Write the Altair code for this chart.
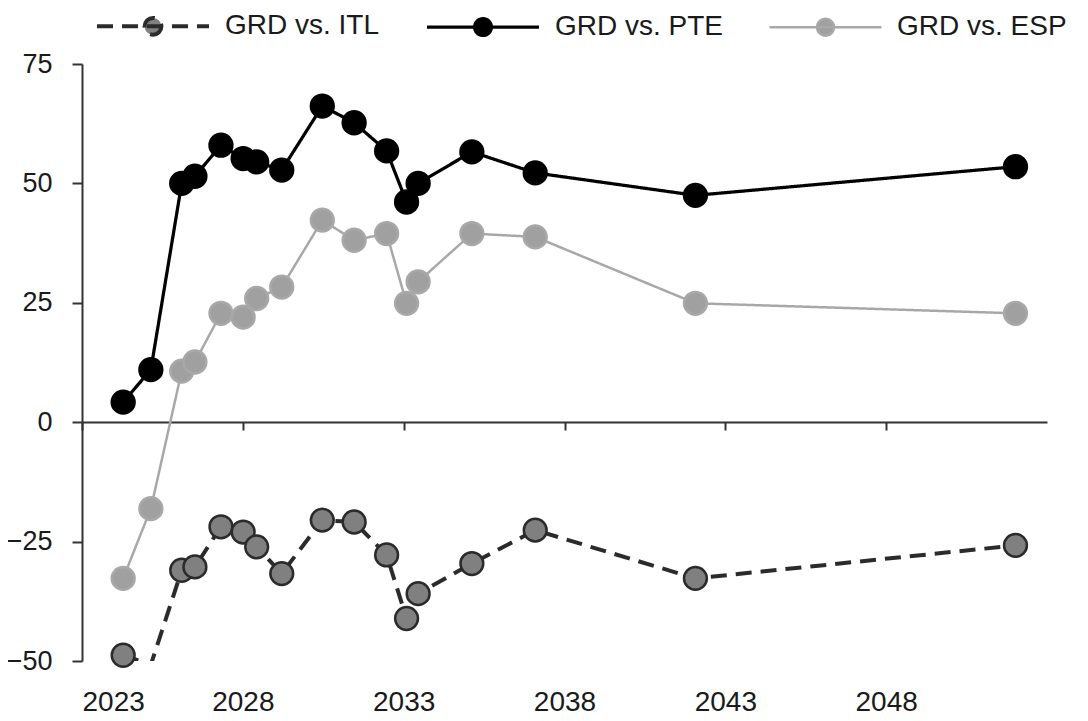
import altair as alt
import pandas as pd

# ---- data ----
years = [2024.28, 2025.14, 2026.10, 2026.51, 2027.32, 2028.01, 2028.43, 2029.21,
         2030.47, 2031.46, 2032.47, 2033.09, 2033.45, 2035.12, 2037.09, 2042.07, 2052.02]
itl = [-48.8, -50.8, -31.0, -30.3, -21.9, -23.0, -26.1, -31.7,
       -20.5, -20.9, -27.8, -41.1, -35.9, -29.6, -22.6, -32.7, -25.8]
pte = [4.2, 11.0, 50.0, 51.5, 58.0, 55.2, 54.5, 52.8,
       66.2, 62.7, 56.8, 46.1, 50.0, 56.6, 52.2, 47.5, 53.5]
esp = [-32.7, -18.1, 10.7, 12.6, 22.8, 22.0, 25.9, 28.3,
       42.3, 38.1, 39.5, 24.9, 29.4, 39.5, 38.8, 24.9, 22.8]
series = ["GRD vs. ITL", "GRD vs. PTE", "GRD vs. ESP"]
x_ticks = [2023, 2028, 2033, 2038, 2043, 2048]
y_ticks = [-50, -25, 0, 25, 50, 75]

rows = []
for name, vals in zip(series, [itl, pte, esp]):
    for yr, v in zip(years, vals):
        rows.append({"series": name, "year": yr, "value": v})
df = pd.DataFrame(rows)

FONT = "Liberation Sans, Arial, sans-serif"

x_enc = alt.X("year:Q",
              scale=alt.Scale(domain=[2023, 2053], nice=False, zero=False),
              axis=alt.Axis(values=x_ticks, format="d", title=None, offset=-239,
                            tickSize=8, labelPadding=258, grid=False))
y_enc = alt.Y("value:Q",
              scale=alt.Scale(domain=[-50, 75], nice=False, zero=False),
              axis=alt.Axis(values=y_ticks, title=None, tickSize=10,
                            labelPadding=20, labelFontSize=27, grid=False))

color = alt.Color("series:N", title=None,
                  scale=alt.Scale(domain=series, range=["#2b2b2b", "#000000", "#a8a8a8"]))
fill = alt.Fill("series:N", title=None,
                scale=alt.Scale(domain=series, range=["#808080", "#000000", "#a0a0a0"]))
dash = alt.StrokeDash("series:N", title=None,
                      scale=alt.Scale(domain=series, range=[[16, 9], [1, 0], [1, 0]]))
width = alt.StrokeWidth("series:N", title=None,
                        scale=alt.Scale(domain=series, range=[4, 2.5, 2.5]))

base = alt.Chart(df).encode(x=x_enc, y=y_enc)

lines = base.mark_line(clip=True).encode(color=color, strokeDash=dash, strokeWidth=width)
points = base.transform_filter("datum.value >= -50").mark_point(
    filled=False, size=520, strokeWidth=2.5, opacity=1
).encode(color=color, fill=fill)

sym = "M-1,0H1M0.15,0A0.15,0.15,0,1,1,-0.15,0A0.15,0.15,0,1,1,0.15,0Z"

chart = alt.layer(lines, points).properties(
    width=965, height=597,
    autosize=alt.AutoSizeParams(type="none"),
    padding={"left": 74, "top": 56, "right": 25, "bottom": 58},
).configure_view(stroke=None).configure_axis(
    domainColor="#333333", domainWidth=2, tickColor="#333333", tickWidth=2,
    labelFont=FONT, labelFontSize=28, labelColor="#1a1a1a",
).configure_legend(
    orient="none", legendX=13, legendY=-96, direction="horizontal",
    symbolType=sym, symbolSize=12544, symbolOpacity=1,
    labelFont=FONT, labelFontSize=28, labelColor="#1a1a1a", labelLimit=400,
    labelOffset=14, columnPadding=40, padding=0,
)

chart.save("out.html", embed_options={"renderer": "svg", "actions": False})
